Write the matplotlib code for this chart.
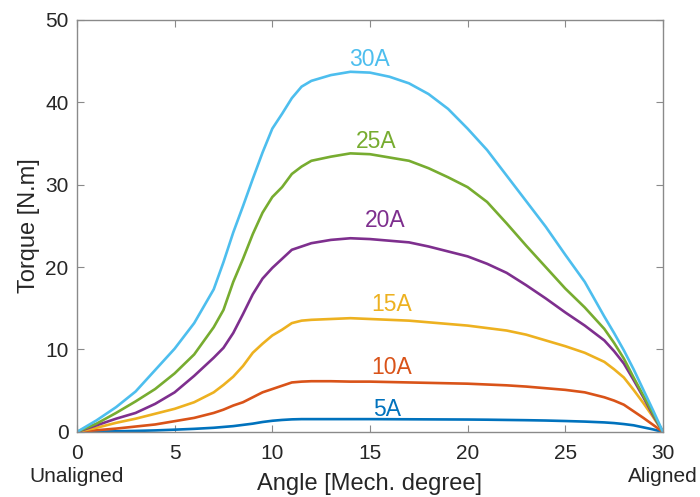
import matplotlib
matplotlib.use('Agg')
import matplotlib.pyplot as plt

plt.rcParams['font.family'] = ['Liberation Sans', 'DejaVu Sans']

# 机械角度 (deg)
angle = [0, 1, 2, 3, 4, 5, 6, 7, 7.5, 8, 8.5, 9, 9.5, 10, 10.5, 11, 11.5,
         12, 13, 14, 15, 16, 17, 18, 19, 20, 21, 22, 23, 24, 25, 26, 27,
         27.5, 28, 28.5, 29, 29.5, 30]

torque_5a = [0, 0.03, 0.07, 0.12, 0.18, 0.27, 0.37, 0.5, 0.6, 0.7, 0.85, 1.0, 1.2,
             1.35, 1.45, 1.52, 1.55, 1.55, 1.55, 1.55, 1.55, 1.54, 1.53, 1.52, 1.51,
             1.5, 1.48, 1.45, 1.42, 1.38, 1.32, 1.25, 1.15, 1.07, 0.95, 0.8, 0.55,
             0.3, 0]
torque_10a = [0, 0.2, 0.4, 0.65, 0.9, 1.3, 1.7, 2.3, 2.7, 3.2, 3.6, 4.2, 4.8, 5.2,
              5.6, 6.0, 6.1, 6.15, 6.15, 6.1, 6.1, 6.05, 6.0, 5.95, 5.9, 5.85, 5.75,
              5.65, 5.5, 5.3, 5.1, 4.8, 4.2, 3.8, 3.3, 2.5, 1.7, 0.85, 0]
torque_15a = [0, 0.5, 1.1, 1.6, 2.2, 2.8, 3.6, 4.8, 5.7, 6.7, 8.0, 9.6, 10.7, 11.7,
              12.4, 13.2, 13.5, 13.6, 13.7, 13.8, 13.7, 13.6, 13.5, 13.3, 13.1, 12.9,
              12.6, 12.3, 11.8, 11.1, 10.4, 9.6, 8.5, 7.6, 6.6, 5.1, 3.5, 1.8, 0]
torque_20a = [0, 0.8, 1.6, 2.3, 3.4, 4.8, 6.8, 9.0, 10.2, 12.0, 14.3, 16.7, 18.6,
              19.9, 21.0, 22.1, 22.5, 22.9, 23.3, 23.5, 23.4, 23.2, 23.0, 22.5, 21.9,
              21.3, 20.4, 19.3, 17.8, 16.2, 14.5, 12.9, 11.1, 9.8, 8.3, 6.3, 4.2,
              2.0, 0]
torque_25a = [0, 1.0, 2.3, 3.7, 5.2, 7.1, 9.4, 12.7, 14.8, 18.2, 21.0, 24.0, 26.6,
              28.5, 29.7, 31.3, 32.2, 32.9, 33.4, 33.8, 33.7, 33.3, 32.9, 32.0, 30.9,
              29.7, 27.9, 25.3, 22.6, 20.0, 17.4, 15.1, 12.5, 10.8, 8.9, 6.6, 4.4,
              2.2, 0]
torque_30a = [0, 1.4, 3.0, 4.9, 7.5, 10.1, 13.2, 17.3, 20.6, 24.2, 27.4, 30.7, 33.9,
              36.8, 38.6, 40.5, 41.9, 42.6, 43.3, 43.7, 43.6, 43.1, 42.3, 41.0, 39.2,
              36.8, 34.2, 31.1, 28.0, 24.9, 21.5, 18.2, 14.0, 12.0, 9.9, 7.6, 5.1,
              2.6, 0]

currents = ['5A', '10A', '15A', '20A', '25A', '30A']
series = [torque_5a, torque_10a, torque_15a, torque_20a, torque_25a, torque_30a]
colors = ['#0072BD', '#D95319', '#EDB120', '#7E2F8E', '#77AC30', '#4DBEEE']

# 标签位置 (角度, 转矩)
label_x = [15.9, 16.1, 16.1, 15.8, 15.3, 15.0]
label_y = [2.7, 7.8, 15.5, 25.6, 35.2, 45.2]

xticks = [0, 5, 10, 15, 20, 25, 30]
yticks = [0, 10, 20, 30, 40, 50]

fig = plt.figure(figsize=(7, 4.97), dpi=100)
ax = fig.add_axes([0.11, 0.131, 0.837, 0.829])

for cur, vals, c, lx, ly in zip(currents, series, colors, label_x, label_y):
    ax.plot(angle, vals, color=c, lw=1.9)
    ax.text(lx, ly, cur, color=c, fontsize=16.5, ha='center', va='center')

ax.set_xlim(0, 30)
ax.set_ylim(0, 50)
ax.set_xticks(xticks)
ax.set_yticks(yticks)

for s in ax.spines.values():
    s.set_color('#8a8a8a')
    s.set_linewidth(1.0)
ax.tick_params(direction='in', length=5, width=0.8, color='#8a8a8a',
               top=True, right=True, labelsize=15, labelcolor='#262626')
ax.tick_params(axis='x', pad=9)
ax.tick_params(axis='y', pad=6)

# 两端位置说明
tr = ax.get_xaxis_transform()
ax.text(0, -0.109, 'Unaligned', transform=tr, fontsize=15, color='#262626',
        ha='center', va='center')
ax.text(30, -0.109, 'Aligned', transform=tr, fontsize=15, color='#262626',
        ha='center', va='center')

ax.set_xlabel('Angle [Mech. degree]', fontsize=17, color='#262626')
ax.xaxis.set_label_coords(0.5, -0.127)
ax.xaxis.label.set_va('center')
ax.set_ylabel('Torque [N.m]', fontsize=17, color='#262626')
ax.yaxis.set_label_coords(-0.082, 0.5)
ax.yaxis.label.set_va('center')

fig.savefig('out.png', dpi=100, facecolor='white')
